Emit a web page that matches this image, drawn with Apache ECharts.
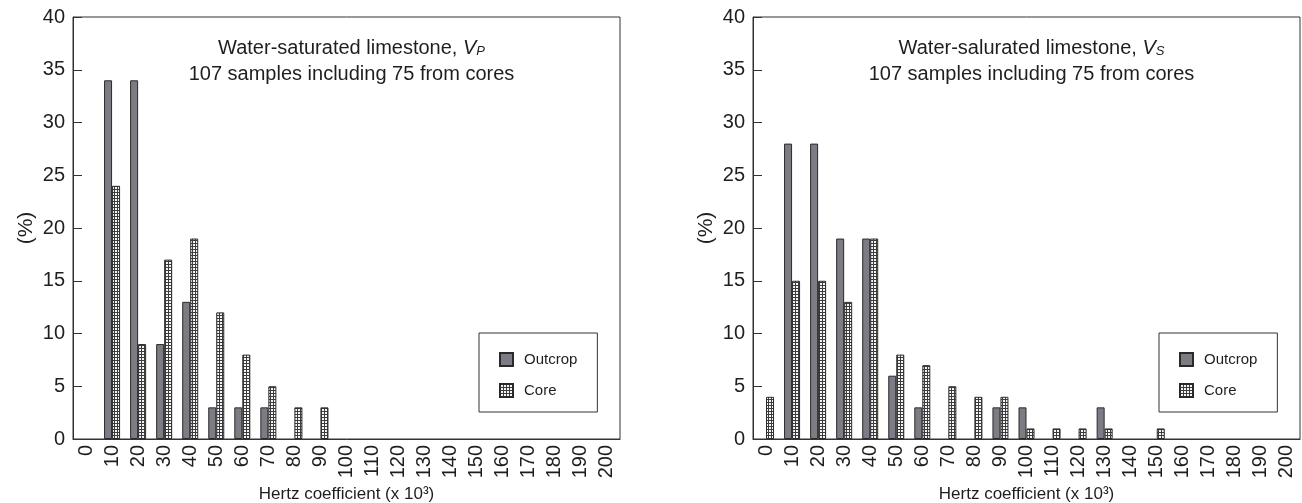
<!DOCTYPE html>
<html>
<head>
<meta charset="utf-8">
<script src="https://cdn.jsdelivr.net/npm/echarts@6/dist/echarts.min.js"></script>
<style>
  html, body { margin: 0; padding: 0; background: #fff; }
  #chart { width: 1302px; height: 503px; }
</style>
</head>
<body>
<div id="chart"></div>
<script>
// Hertz coefficient bins (x 10^3)
const categories = ['0','10','20','30','40','50','60','70','80','90','100',
  '110','120','130','140','150','160','170','180','190','200'];
const yTicks = [0, 5, 10, 15, 20, 25, 30, 35, 40];

// Percent of samples per bin, P-wave (left panel)
const vpOutcrop = [null, 34, 34, 9, 13, 3, 3, 3, null, null, null,
  null, null, null, null, null, null, null, null, null, null];
const vpCore = [null, 24, 9, 17, 19, 12, 8, 5, 3, 3, null,
  null, null, null, null, null, null, null, null, null, null];

// Percent of samples per bin, S-wave (right panel)
const vsOutcrop = [null, 28, 28, 19, 19, 6, 3, null, null, 3, 3,
  null, null, 3, null, null, null, null, null, null, null];
const vsCore = [4, 15, 15, 13, 19, 8, 7, 5, 4, 4, 1,
  1, 1, 1, null, 1, null, null, null, null, null];

const seriesNames = ['Outcrop', 'Core'];

// Grid-hatched fill used for the core bars
function gridPattern() {
  const c = document.createElement('canvas');
  c.width = 3; c.height = 3;
  const g = c.getContext('2d');
  g.fillStyle = '#3c3c3c';
  g.fillRect(0, 0, 3, 3);
  g.fillStyle = '#f6f6f6';
  g.fillRect(1, 1, 2, 2);
  return { image: c, repeat: 'repeat' };
}

const INK = '#333333';
const TEXT = '#1e1e1e';
const FONT = '"Liberation Sans", Arial, sans-serif';
const outcropStyle = { color: '#7c7d84', borderColor: '#2a2a2a', borderWidth: 1 };
const coreStyle = { color: gridPattern(), borderColor: '#2a2a2a', borderWidth: 1 };

const panels = [
  { left: 73, title: 'Water-saturated limestone, ', sub: 'P', outcrop: vpOutcrop, core: vpCore },
  { left: 753, title: 'Water-salurated limestone, ', sub: 'S', outcrop: vsOutcrop, core: vsCore }
];
const W = 547, TOP = 17, H = 422;

const option = {
  animation: false,
  textStyle: { fontFamily: FONT, color: TEXT },
  grid: panels.map(p => ({
    left: p.left, top: TOP, width: W, height: H,
    outerBoundsMode: 'none', containLabel: false,
    show: true, borderColor: INK, borderWidth: 1, backgroundColor: 'transparent'
  })),
  title: panels.map(p => ({
    left: p.left + W / 2, top: 27, textAlign: 'center',
    text: '{a|' + p.title + '}{v|V}{s|' + p.sub + '}\n{a|107 samples including 75 from cores}',
    textStyle: {
      fontFamily: FONT, color: TEXT, fontWeight: 'normal',
      rich: {
        a: { fontFamily: FONT, fontSize: 20, color: TEXT, lineHeight: 26, verticalAlign: 'bottom' },
        v: { fontFamily: FONT, fontSize: 20, color: TEXT, fontStyle: 'italic', lineHeight: 26, verticalAlign: 'bottom' },
        s: { fontFamily: FONT, fontSize: 13, color: TEXT, fontStyle: 'italic', lineHeight: 8, verticalAlign: 'bottom' }
      }
    }
  })),
  legend: panels.map(p => ({
    data: seriesNames, orient: 'vertical',
    left: p.left + 406, top: 333,
    itemWidth: 13, itemHeight: 13, itemGap: 16,
    padding: [19, 20, 14, 20],
    borderColor: INK, borderWidth: 1,
    icon: 'rect',
    selectedMode: false,
    textStyle: { fontFamily: FONT, fontSize: 15, color: TEXT, padding: [0, 0, 0, 6] }
  })),
  xAxis: panels.map((p, i) => ({
    type: 'category', gridIndex: i, data: categories,
    boundaryGap: true,
    name: 'Hertz coefficient (x 10³)', nameLocation: 'middle', nameGap: 45,
    nameTextStyle: { fontFamily: FONT, fontSize: 17, color: TEXT },
    axisLine: { lineStyle: { color: INK, width: 1 } },
    axisTick: { inside: true, length: 8, interval: 0, lineStyle: { color: INK } },
    axisLabel: { rotate: 90, interval: 0, margin: 6, fontFamily: FONT, fontSize: 20, color: TEXT },
    splitLine: { show: false }
  })),
  yAxis: panels.map((p, i) => ({
    type: 'value', gridIndex: i,
    min: yTicks[0], max: yTicks[yTicks.length - 1], interval: yTicks[1] - yTicks[0],
    name: '(%)', nameLocation: 'middle', nameGap: 36, nameRotate: 90,
    nameTextStyle: { fontFamily: FONT, fontSize: 21, color: TEXT },
    axisLine: { show: true, lineStyle: { color: INK, width: 1 } },
    axisTick: { show: true, inside: true, length: 9, lineStyle: { color: INK } },
    axisLabel: { margin: 8, fontFamily: FONT, fontSize: 20, color: TEXT },
    splitLine: { show: false }
  })),
  series: panels.flatMap((p, i) => [
    { name: 'Outcrop', type: 'bar', xAxisIndex: i, yAxisIndex: i, data: p.outcrop,
      barWidth: 8, barGap: '0%', itemStyle: outcropStyle },
    { name: 'Core', type: 'bar', xAxisIndex: i, yAxisIndex: i, data: p.core,
      barWidth: 8, barGap: '0%', itemStyle: coreStyle }
  ])
};

const chart = echarts.init(document.getElementById('chart'), null, { renderer: 'canvas' });
chart.setOption(option);
</script>
</body>
</html>
